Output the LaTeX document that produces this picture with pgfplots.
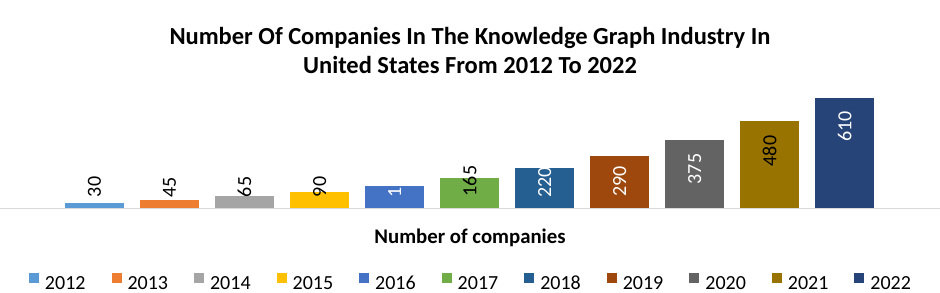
\documentclass[border=0pt]{standalone}
\usepackage{pgfplots}
\pgfplotsset{compat=1.18}
\usepackage{fontspec}
\setmainfont{Carlito}
\definecolor{c12}{HTML}{5B9BD5}
\definecolor{c13}{HTML}{ED7D31}
\definecolor{c14}{HTML}{A5A5A5}
\definecolor{c15}{HTML}{FFC000}
\definecolor{c16}{HTML}{4472C4}
\definecolor{c17}{HTML}{70AD47}
\definecolor{c18}{HTML}{255E91}
\definecolor{c19}{HTML}{9E480E}
\definecolor{c20}{HTML}{636363}
\definecolor{c21}{HTML}{997300}
\definecolor{c22}{HTML}{264478}
\definecolor{baseline}{HTML}{D9D9D9}
\pgfplotsset{lab/.style 2 args={every node near coord/.append style={anchor=center, yshift=#1, rotate=90, text=#2, font=\fontsize{20bp}{24bp}\selectfont}}}
\begin{document}
\begin{tikzpicture}
\begin{axis}[
  scale only axis, width=940bp, height=118bp,
  xmin=-1.26, xmax=11.27, ymin=0, ymax=654,
  ybar, bar width=59bp,
  axis y line=none, axis x line*=bottom,
  x axis line style={draw=baseline, line width=1bp},
  xtick=\empty, ytick=\empty,
  clip=false,
  /pgf/number format/assume math mode=true,
  title={Number Of Companies In The Knowledge Graph Industry In\\United States From 2012 To 2022},
  title style={at={(axis description cs:0.5,1)}, anchor=south, yshift=10bp, inner sep=0pt, align=center, font=\fontsize{24.5bp}{29bp}\selectfont\bfseries},
  xlabel={Number of companies},
  xlabel style={at={(axis description cs:0.5,0)}, anchor=base, yshift=-35bp, inner sep=0pt, font=\fontsize{20.8bp}{24bp}\selectfont\bfseries},
  legend columns=11,
  legend style={at={(axis description cs:0.5,0)}, anchor=north, yshift=-64.5bp, draw=none, fill=none, inner sep=0pt, column sep=0pt, nodes={inner sep=0pt}, font=\fontsize{20bp}{24bp}\selectfont, /tikz/every odd column/.append style={column sep=6bp}, /tikz/every even column/.append style={column sep=26bp}},
  legend image code/.code={\fill[#1] (0bp,1bp) rectangle (10bp,11bp);},
  nodes near coords,
]
\addplot[fill=c12, draw=none, bar shift=0pt, lab={15.6bp}{black}] coordinates {(0,30)};
\addlegendentry{2012}
\addplot[fill=c13, draw=none, bar shift=0pt, lab={12.4bp}{black}] coordinates {(1,45)};
\addlegendentry{2013}
\addplot[fill=c14, draw=none, bar shift=0pt, lab={9.3bp}{black}] coordinates {(2,65)};
\addlegendentry{2014}
\addplot[fill=c15, draw=none, bar shift=0pt, lab={4.8bp}{black}] coordinates {(3,90)};
\addlegendentry{2015}
\addplot[fill=c16, draw=none, bar shift=0pt, lab={4.4bp}{white}] coordinates {(4,120)};
\addlegendentry{2016}
\addplot[fill=c17, draw=none, bar shift=0pt, lab={-2.8bp}{black}] coordinates {(5,165)};
\addlegendentry{2017}
\addplot[fill=c18, draw=none, bar shift=0pt, lab={-14.2bp}{white}] coordinates {(6,220)};
\addlegendentry{2018}
\addplot[fill=c19, draw=none, bar shift=0pt, lab={-25.8bp}{white}] coordinates {(7,290)};
\addlegendentry{2019}
\addplot[fill=c20, draw=none, bar shift=0pt, lab={-28.6bp}{white}] coordinates {(8,375)};
\addlegendentry{2020}
\addplot[fill=c21, draw=none, bar shift=0pt, lab={-29.6bp}{black}] coordinates {(9,480)};
\addlegendentry{2021}
\addplot[fill=c22, draw=none, bar shift=0pt, lab={-28.5bp}{white}] coordinates {(10,610)};
\addlegendentry{2022}
\end{axis}
\pgfresetboundingbox
\path ([yshift=-85bp]current axis.south west) rectangle ([yshift=90bp]current axis.north east);
\end{tikzpicture}
\end{document}
